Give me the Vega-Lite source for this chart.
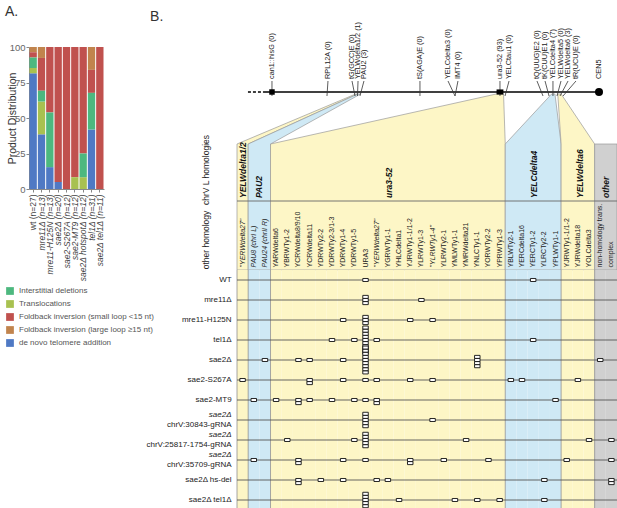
{
"$schema": "https://vega.github.io/schema/vega-lite/v6.json",
"padding": {"left": 5, "top": 5, "right": 0, "bottom": 0},
"autosize": {"type": "pad"},
"config": {"view": {"stroke": null}, "font": "Liberation Sans"},
"datasets": {
"products": [
{"genotype": "wt (n=27)", "category": "de novo telomere addition", "percent": 81.5},
{"genotype": "wt (n=27)", "category": "Foldback inversion (large loop ≥15 nt)", "percent": 3.7},
{"genotype": "wt (n=27)", "category": "Foldback inversion (small loop <15 nt)", "percent": 3.7},
{"genotype": "wt (n=27)", "category": "Translocations", "percent": 3.7},
{"genotype": "wt (n=27)", "category": "Interstitial deletions", "percent": 7.4},
{"genotype": "mre11Δ (n=13)", "category": "de novo telomere addition", "percent": 38.5},
{"genotype": "mre11Δ (n=13)", "category": "Foldback inversion (large loop ≥15 nt)", "percent": 7.7},
{"genotype": "mre11Δ (n=13)", "category": "Foldback inversion (small loop <15 nt)", "percent": 23.1},
{"genotype": "mre11Δ (n=13)", "category": "Translocations", "percent": 23.1},
{"genotype": "mre11Δ (n=13)", "category": "Interstitial deletions", "percent": 7.6},
{"genotype": "mre11-H125N (n=13)", "category": "de novo telomere addition", "percent": 15.4},
{"genotype": "mre11-H125N (n=13)", "category": "Foldback inversion (small loop <15 nt)", "percent": 46.1},
{"genotype": "mre11-H125N (n=13)", "category": "Interstitial deletions", "percent": 38.5},
{"genotype": "sae2Δ (n=20)", "category": "de novo telomere addition", "percent": 5},
{"genotype": "sae2Δ (n=20)", "category": "Foldback inversion (small loop <15 nt)", "percent": 95},
{"genotype": "sae2-S267A (n=12)", "category": "Foldback inversion (small loop <15 nt)", "percent": 100},
{"genotype": "sae2-MT9 (n=12)", "category": "Foldback inversion (small loop <15 nt)", "percent": 91.7},
{"genotype": "sae2-MT9 (n=12)", "category": "Translocations", "percent": 8.3},
{"genotype": "sae2Δ hotspotΔ (n=12)", "category": "Foldback inversion (small loop <15 nt)", "percent": 75},
{"genotype": "sae2Δ hotspotΔ (n=12)", "category": "Translocations", "percent": 8.3},
{"genotype": "sae2Δ hotspotΔ (n=12)", "category": "Interstitial deletions", "percent": 16.7},
{"genotype": "tel1Δ (n=31)", "category": "de novo telomere addition", "percent": 41.9},
{"genotype": "tel1Δ (n=31)", "category": "Foldback inversion (large loop ≥15 nt)", "percent": 16.1},
{"genotype": "tel1Δ (n=31)", "category": "Foldback inversion (small loop <15 nt)", "percent": 16.2},
{"genotype": "tel1Δ (n=31)", "category": "Interstitial deletions", "percent": 25.8},
{"genotype": "sae2Δ tel1Δ (n=11)", "category": "Foldback inversion (small loop <15 nt)", "percent": 100}
],
"chrom": [
{"seg": "dashed", "from": 0.98, "to": 2.33},
{"seg": "solid", "from": 2.33, "to": 32.3}
],
"markers": [
{"name": "can1::hisG", "u": 3.13, "kind": "box"},
{"name": "ura3-52", "u": 23.53, "kind": "wide"},
{"name": "CEN5", "u": 32.39, "kind": "cen"}
],
"loci": [
{"label": "can1::hisG (0)", "n": 0, "lu": 3.13, "fu": 3.13},
{"label": "RPL12A (0)", "n": 0, "lu": 8.14, "fu": 8.05},
{"label": "tG(GCC)E (0)", "n": 0, "lu": 10.29, "fu": 10.56},
{"label": "YELWdelta1/2 (1)", "n": 1, "lu": 10.83, "fu": 10.78},
{"label": "PAU2 (3)", "n": 3, "lu": 11.36, "fu": 11.0},
{"label": "tS(AGA)E (0)", "n": 0, "lu": 16.37, "fu": 16.37},
{"label": "YELCdelta3 (0)", "n": 0, "lu": 18.88, "fu": 19.51},
{"label": "IMT4 (0)", "n": 0, "lu": 19.77, "fu": 19.51},
{"label": "ura3-52 (93)", "n": 93, "lu": 23.53, "fu": 23.53},
{"label": "YELCtau1 (0)", "n": 0, "lu": 24.34, "fu": 23.98},
{"label": "tQ(UUG)E2 (0)", "n": 0, "lu": 26.84, "fu": 27.38},
{"label": "tK(CUU)E1 (0)", "n": 0, "lu": 27.56, "fu": 27.92},
{"label": "YELCdelta4 (7)", "n": 7, "lu": 28.27, "fu": 28.27},
{"label": "YELWdelta5 (0)", "n": 0, "lu": 28.99, "fu": 28.63},
{"label": "YELWdelta6 (3)", "n": 3, "lu": 29.62, "fu": 28.9},
{"label": "tR(UCU)E (0)", "n": 0, "lu": 30.33, "fu": 29.17},
{"label": "CEN5", "lu": 32.39}
],
"groups": [
{"grp": "d12", "label": "YELWdelta1/2", "first": "d12|\"YERWdelta27\"", "from": 0, "to": 1, "cu": 0.5},
{"grp": "pau", "label": "PAU2", "first": "pau|PAU8 (chrI L)", "from": 1, "to": 3, "cu": 2},
{"grp": "ura", "label": "ura3-52", "first": "ura|YARWdelta6", "from": 3, "to": 24, "cu": 13.6},
{"grp": "d4", "label": "YELCdelta4", "first": "d4|YBLWTy2-1", "from": 24, "to": 29, "cu": 26.6},
{"grp": "d6", "label": "YELWdelta6", "first": "d6|YJRWTy1-1/1-2", "from": 29, "to": 32, "cu": 30.7},
{"grp": "oth", "label": "other", "first": "oth|non-homology trans.", "from": 32, "to": 34, "cu": 33}
],
"shapes": [
{"grp": "d12", "v": 0, "x1": 0, "x2": 1}, {"grp": "d12", "v": 126, "x1": 0, "x2": 1}, {"grp": "d12", "v": 176, "x1": 10.62, "x2": 10.8},
{"grp": "pau", "v": 0, "x1": 1, "x2": 3}, {"grp": "pau", "v": 126, "x1": 1, "x2": 3}, {"grp": "pau", "v": 176, "x1": 10.8, "x2": 11.05},
{"grp": "ura", "v": 0, "x1": 3, "x2": 24}, {"grp": "ura", "v": 126, "x1": 3, "x2": 24}, {"grp": "ura", "v": 176, "x1": 23.2, "x2": 23.85},
{"grp": "d4", "v": 0, "x1": 24, "x2": 29}, {"grp": "d4", "v": 126, "x1": 24, "x2": 29}, {"grp": "d4", "v": 176, "x1": 28.15, "x2": 28.45},
{"grp": "d6", "v": 0, "x1": 29, "x2": 32}, {"grp": "d6", "v": 126, "x1": 29, "x2": 32}, {"grp": "d6", "v": 176, "x1": 28.7, "x2": 29.0},
{"grp": "oth", "v": 0, "x1": 32, "x2": 34}, {"grp": "oth", "v": 126, "x1": 32, "x2": 34}
],
"sides": [
{"text": "chrV L homologies", "u": -2.77, "v": 100},
{"text": "other homology", "u": -2.77, "v": 30}
],
"panel": [
{"text": "B.", "u": -7.78, "v": 253}
],
"cols": [
{"col": "d12|\"YERWdelta27\"", "grp": "d12"},
{"col": "pau|PAU8 (chrI L)", "grp": "pau"},
{"col": "pau|PAU24 (chrII R)", "grp": "pau"},
{"col": "ura|YARWdelta6", "grp": "ura"},
{"col": "ura|YBRWTy1-2", "grp": "ura"},
{"col": "ura|YCRWdelta8/9/10", "grp": "ura"},
{"col": "ura|YCRWdelta11", "grp": "ura"},
{"col": "ura|YDRWTy2-2", "grp": "ura"},
{"col": "ura|YDRWTy2-3/1-3", "grp": "ura"},
{"col": "ura|YDRWTy1-4", "grp": "ura"},
{"col": "ura|YDRWTy1-5", "grp": "ura"},
{"col": "ura|URA3", "grp": "ura"},
{"col": "ura|\"YERWdelta27\"", "grp": "ura"},
{"col": "ura|YGRWTy1-1", "grp": "ura"},
{"col": "ura|YHLCdelta1", "grp": "ura"},
{"col": "ura|YJRWTy1-1/1-2", "grp": "ura"},
{"col": "ura|YLRWTy1-3", "grp": "ura"},
{"col": "ura|\"YLRWTy1-4\"", "grp": "ura"},
{"col": "ura|YLRWTy2-1", "grp": "ura"},
{"col": "ura|YMLWTy1-1", "grp": "ura"},
{"col": "ura|YMRWdelta21", "grp": "ura"},
{"col": "ura|YNLCTy1-1", "grp": "ura"},
{"col": "ura|YORWTy2-2", "grp": "ura"},
{"col": "ura|YPRWTy1-3", "grp": "ura"},
{"col": "d4|YBLWTy2-1", "grp": "d4"},
{"col": "d4|YERCdelta16", "grp": "d4"},
{"col": "d4|YERCTy1-2", "grp": "d4"},
{"col": "d4|YLRCTy2-2", "grp": "d4"},
{"col": "d4|YPLWTy1-1", "grp": "d4"},
{"col": "d6|YJRWTy1-1/1-2", "grp": "d6"},
{"col": "d6|YJRWdelta18", "grp": "d6"},
{"col": "d6|YOLCdelta3", "grp": "d6"},
{"col": "oth|non-homology trans.", "grp": "oth"},
{"col": "oth|complex", "grp": "oth"}
],
"strains": [
{"strain": "WT", "l1": "WT"},
{"strain": "mre11Δ", "l1": "mre11Δ"},
{"strain": "mre11-H125N", "l1": "mre11-H125N"},
{"strain": "tel1Δ", "l1": "tel1Δ"},
{"strain": "sae2Δ", "l1": "sae2Δ"},
{"strain": "sae2-S267A", "l1": "sae2-S267A"},
{"strain": "sae2-MT9", "l1": "sae2-MT9"},
{"strain": "sae2Δ chrV:30843-gRNA", "l1": "sae2Δ", "l2": "chrV:30843-gRNA"},
{"strain": "sae2Δ chrV:25817-1754-gRNA", "l1": "sae2Δ", "l2": "chrV:25817-1754-gRNA"},
{"strain": "sae2Δ chrV:35709-gRNA", "l1": "sae2Δ", "l2": "chrV:35709-gRNA"},
{"strain": "sae2Δ hs-del", "l1": "sae2Δ hs-del"},
{"strain": "sae2Δ tel1Δ", "l1": "sae2Δ tel1Δ"}
],
"boxes": [
{"strain": "WT", "col": "ura|URA3", "k": 0},
{"strain": "WT", "col": "d4|YERCTy1-2", "k": 0},
{"strain": "mre11Δ", "col": "ura|URA3", "k": 0},
{"strain": "mre11Δ", "col": "ura|URA3", "k": 1},
{"strain": "mre11Δ", "col": "ura|URA3", "k": 2},
{"strain": "mre11Δ", "col": "ura|YLRWTy1-3", "k": 0},
{"strain": "mre11-H125N", "col": "ura|YDRWTy1-4", "k": 0},
{"strain": "mre11-H125N", "col": "ura|URA3", "k": 0},
{"strain": "mre11-H125N", "col": "ura|URA3", "k": 1},
{"strain": "mre11-H125N", "col": "ura|URA3", "k": 2},
{"strain": "mre11-H125N", "col": "ura|YJRWTy1-1/1-2", "k": 0},
{"strain": "mre11-H125N", "col": "ura|\"YLRWTy1-4\"", "k": 0},
{"strain": "tel1Δ", "col": "ura|YDRWTy2-3/1-3", "k": 0},
{"strain": "tel1Δ", "col": "ura|YDRWTy1-5", "k": 0},
{"strain": "tel1Δ", "col": "ura|URA3", "k": 0},
{"strain": "tel1Δ", "col": "ura|URA3", "k": 1},
{"strain": "tel1Δ", "col": "ura|URA3", "k": 2},
{"strain": "tel1Δ", "col": "ura|URA3", "k": 3},
{"strain": "tel1Δ", "col": "ura|URA3", "k": 4},
{"strain": "tel1Δ", "col": "ura|URA3", "k": 5},
{"strain": "tel1Δ", "col": "ura|URA3", "k": 6},
{"strain": "tel1Δ", "col": "ura|URA3", "k": 7},
{"strain": "tel1Δ", "col": "ura|URA3", "k": 8},
{"strain": "tel1Δ", "col": "ura|\"YERWdelta27\"", "k": 0},
{"strain": "tel1Δ", "col": "d4|YERCTy1-2", "k": 0},
{"strain": "sae2Δ", "col": "pau|PAU24 (chrII R)", "k": 0},
{"strain": "sae2Δ", "col": "ura|YCRWdelta8/9/10", "k": 0},
{"strain": "sae2Δ", "col": "ura|YCRWdelta11", "k": 0},
{"strain": "sae2Δ", "col": "ura|YDRWTy1-4", "k": 0},
{"strain": "sae2Δ", "col": "ura|URA3", "k": 0},
{"strain": "sae2Δ", "col": "ura|URA3", "k": 1},
{"strain": "sae2Δ", "col": "ura|URA3", "k": 2},
{"strain": "sae2Δ", "col": "ura|URA3", "k": 3},
{"strain": "sae2Δ", "col": "ura|URA3", "k": 4},
{"strain": "sae2Δ", "col": "ura|URA3", "k": 5},
{"strain": "sae2Δ", "col": "ura|URA3", "k": 6},
{"strain": "sae2Δ", "col": "ura|URA3", "k": 7},
{"strain": "sae2Δ", "col": "ura|URA3", "k": 8},
{"strain": "sae2Δ", "col": "ura|YNLCTy1-1", "k": 0},
{"strain": "sae2Δ", "col": "ura|YNLCTy1-1", "k": 1},
{"strain": "sae2Δ", "col": "ura|YNLCTy1-1", "k": 2},
{"strain": "sae2Δ", "col": "ura|YNLCTy1-1", "k": 3},
{"strain": "sae2Δ", "col": "oth|non-homology trans.", "k": 0},
{"strain": "sae2-S267A", "col": "d12|\"YERWdelta27\"", "k": 0},
{"strain": "sae2-S267A", "col": "ura|YCRWdelta11", "k": 0},
{"strain": "sae2-S267A", "col": "ura|YCRWdelta11", "k": 1},
{"strain": "sae2-S267A", "col": "ura|YDRWTy1-4", "k": 0},
{"strain": "sae2-S267A", "col": "ura|URA3", "k": 0},
{"strain": "sae2-S267A", "col": "ura|\"YERWdelta27\"", "k": 0},
{"strain": "sae2-S267A", "col": "ura|YJRWTy1-1/1-2", "k": 0},
{"strain": "sae2-S267A", "col": "ura|\"YLRWTy1-4\"", "k": 0},
{"strain": "sae2-S267A", "col": "d4|YBLWTy2-1", "k": 0},
{"strain": "sae2-S267A", "col": "d4|YERCdelta16", "k": 0},
{"strain": "sae2-S267A", "col": "d6|YJRWdelta18", "k": 0},
{"strain": "sae2-MT9", "col": "pau|PAU8 (chrI L)", "k": 0},
{"strain": "sae2-MT9", "col": "ura|YARWdelta6", "k": 0},
{"strain": "sae2-MT9", "col": "ura|YCRWdelta8/9/10", "k": 0},
{"strain": "sae2-MT9", "col": "ura|YCRWdelta8/9/10", "k": 1},
{"strain": "sae2-MT9", "col": "ura|YCRWdelta11", "k": 0},
{"strain": "sae2-MT9", "col": "ura|YDRWTy2-3/1-3", "k": 0},
{"strain": "sae2-MT9", "col": "ura|YDRWTy1-5", "k": 0},
{"strain": "sae2-MT9", "col": "ura|URA3", "k": 0},
{"strain": "sae2-MT9", "col": "ura|\"YERWdelta27\"", "k": 0},
{"strain": "sae2-MT9", "col": "ura|\"YERWdelta27\"", "k": 1},
{"strain": "sae2-MT9", "col": "d4|YPLWTy1-1", "k": 0},
{"strain": "sae2Δ chrV:30843-gRNA", "col": "ura|URA3", "k": 0},
{"strain": "sae2Δ chrV:30843-gRNA", "col": "ura|URA3", "k": 1},
{"strain": "sae2Δ chrV:30843-gRNA", "col": "ura|URA3", "k": 2},
{"strain": "sae2Δ chrV:30843-gRNA", "col": "ura|URA3", "k": 3},
{"strain": "sae2Δ chrV:30843-gRNA", "col": "ura|URA3", "k": 4},
{"strain": "sae2Δ chrV:30843-gRNA", "col": "ura|\"YLRWTy1-4\"", "k": 0},
{"strain": "sae2Δ chrV:25817-1754-gRNA", "col": "ura|YBRWTy1-2", "k": 0},
{"strain": "sae2Δ chrV:25817-1754-gRNA", "col": "ura|YDRWTy1-5", "k": 0},
{"strain": "sae2Δ chrV:25817-1754-gRNA", "col": "ura|URA3", "k": 0},
{"strain": "sae2Δ chrV:25817-1754-gRNA", "col": "ura|URA3", "k": 1},
{"strain": "sae2Δ chrV:25817-1754-gRNA", "col": "ura|URA3", "k": 2},
{"strain": "sae2Δ chrV:25817-1754-gRNA", "col": "ura|URA3", "k": 3},
{"strain": "sae2Δ chrV:25817-1754-gRNA", "col": "ura|URA3", "k": 4},
{"strain": "sae2Δ chrV:25817-1754-gRNA", "col": "ura|YMRWdelta21", "k": 0},
{"strain": "sae2Δ chrV:25817-1754-gRNA", "col": "d6|YOLCdelta3", "k": 0},
{"strain": "sae2Δ chrV:25817-1754-gRNA", "col": "oth|complex", "k": 0},
{"strain": "sae2Δ chrV:35709-gRNA", "col": "pau|PAU8 (chrI L)", "k": 0},
{"strain": "sae2Δ chrV:35709-gRNA", "col": "ura|YCRWdelta8/9/10", "k": 0},
{"strain": "sae2Δ chrV:35709-gRNA", "col": "ura|YCRWdelta8/9/10", "k": 1},
{"strain": "sae2Δ chrV:35709-gRNA", "col": "ura|YDRWTy1-4", "k": 0},
{"strain": "sae2Δ chrV:35709-gRNA", "col": "ura|URA3", "k": 0},
{"strain": "sae2Δ chrV:35709-gRNA", "col": "ura|YJRWTy1-1/1-2", "k": 0},
{"strain": "sae2Δ chrV:35709-gRNA", "col": "ura|YJRWTy1-1/1-2", "k": 1},
{"strain": "sae2Δ chrV:35709-gRNA", "col": "ura|YLRWTy2-1", "k": 0},
{"strain": "sae2Δ chrV:35709-gRNA", "col": "ura|YORWTy2-2", "k": 0},
{"strain": "sae2Δ chrV:35709-gRNA", "col": "d6|YJRWTy1-1/1-2", "k": 0},
{"strain": "sae2Δ chrV:35709-gRNA", "col": "oth|complex", "k": 0},
{"strain": "sae2Δ hs-del", "col": "ura|YCRWdelta8/9/10", "k": 0},
{"strain": "sae2Δ hs-del", "col": "ura|YCRWdelta8/9/10", "k": 1},
{"strain": "sae2Δ hs-del", "col": "ura|YDRWTy2-2", "k": 0},
{"strain": "sae2Δ hs-del", "col": "ura|YDRWTy1-4", "k": 0},
{"strain": "sae2Δ hs-del", "col": "ura|\"YERWdelta27\"", "k": 0},
{"strain": "sae2Δ hs-del", "col": "ura|YGRWTy1-1", "k": 0},
{"strain": "sae2Δ hs-del", "col": "d4|YLRCTy2-2", "k": 0},
{"strain": "sae2Δ hs-del", "col": "oth|complex", "k": 0},
{"strain": "sae2Δ hs-del", "col": "oth|complex", "k": 1},
{"strain": "sae2Δ tel1Δ", "col": "ura|URA3", "k": 0},
{"strain": "sae2Δ tel1Δ", "col": "ura|URA3", "k": 1},
{"strain": "sae2Δ tel1Δ", "col": "ura|URA3", "k": 2},
{"strain": "sae2Δ tel1Δ", "col": "ura|URA3", "k": 3},
{"strain": "sae2Δ tel1Δ", "col": "ura|URA3", "k": 4},
{"strain": "sae2Δ tel1Δ", "col": "ura|YHLCdelta1", "k": 0},
{"strain": "sae2Δ tel1Δ", "col": "ura|YMLWTy1-1", "k": 0},
{"strain": "sae2Δ tel1Δ", "col": "ura|YNLCTy1-1", "k": 0},
{"strain": "sae2Δ tel1Δ", "col": "ura|YPRWTy1-3", "k": 0},
{"strain": "sae2Δ tel1Δ", "col": "d4|YLRCTy2-2", "k": 0}
]
},
"hconcat": [
{
"width": 75, "height": 142,
"title": {"text": "A.", "anchor": "start", "frame": "group", "dx": -24, "offset": 23, "fontSize": 14, "fontWeight": "normal", "color": "#333"},
"data": {"name": "products"},
"mark": {"type": "bar"},
"encoding": {
"x": {"field": "genotype", "type": "nominal", "sort": ["wt (n=27)", "mre11Δ (n=13)", "mre11-H125N (n=13)", "sae2Δ (n=20)", "sae2-S267A (n=12)", "sae2-MT9 (n=12)", "sae2Δ hotspotΔ (n=12)", "tel1Δ (n=31)", "sae2Δ tel1Δ (n=11)"],
"scale": {"paddingInner": 0.12, "paddingOuter": 0.06},
"axis": {"title": null, "labelAngle": -90, "labelAlign": "right", "labelBaseline": "middle", "labelFontSize": 8.5, "labelColor": "#444", "labelPadding": 2, "tickSize": 3, "tickColor": "#888", "domainColor": "#888",
"labelFontStyle": {"condition": {"test": "datum.value == 'wt (n=27)'", "value": "normal"}, "value": "italic"}}},
"y": {"field": "percent", "type": "quantitative", "stack": "zero", "scale": {"domain": [0, 100], "nice": false},
"axis": {"values": [0, 25, 50, 75, 100], "grid": false, "title": "Product Distribution", "titleFontSize": 10.5, "titleFontWeight": "normal", "titleColor": "#333", "titleX": -12, "titleY": 71, "labelFontSize": 9.5, "labelColor": "#666", "tickSize": 3, "tickColor": "#888", "domainColor": "#888", "labelPadding": 1}},
"color": {"field": "category", "type": "nominal",
"scale": {"domain": ["de novo telomere addition", "Foldback inversion (large loop ≥15 nt)", "Foldback inversion (small loop <15 nt)", "Translocations", "Interstitial deletions"],
"range": ["#4f79c4", "#c1844d", "#c0514e", "#a8c150", "#4db87f"]},
"legend": {"values": ["Interstitial deletions", "Translocations", "Foldback inversion (small loop <15 nt)", "Foldback inversion (large loop ≥15 nt)", "de novo telomere addition"],
"orient": "none", "legendX": -23, "legendY": 240, "title": null, "symbolType": "square", "symbolSize": 60, "symbolStrokeWidth": 0, "labelFontSize": 8, "labelColor": "#555", "labelLimit": 260, "rowPadding": 5, "labelOffset": 5}}
}
},
{
"bounds": "flush",
"spacing": 0,
"vconcat": [
{
"width": 380, "height": 223,
"layer": [
{
"data": {"name": "shapes"},
"mark": {"type": "area", "orient": "horizontal", "stroke": "#9a9a9a", "strokeWidth": 0.7, "opacity": 1},
"encoding": {
"y": {"field": "v", "type": "quantitative", "scale": {"domain": [0, 223], "nice": false, "zero": false}, "axis": null},
"x": {"field": "x1", "type": "quantitative", "scale": {"domain": [0, 34], "nice": false, "zero": false}, "axis": null},
"x2": {"field": "x2"},
"detail": {"field": "grp"},
"fill": {"field": "grp", "type": "nominal", "scale": {"domain": ["d12", "pau", "ura", "d4", "d6", "oth"], "range": ["#fdf6c6", "#cfe9f5", "#fdf6c6", "#cfe9f5", "#fdf6c6", "#d0d0d0"]}, "legend": null}
}
},
{
"data": {"name": "groups"},
"mark": {"type": "rule", "color": "#666", "strokeWidth": 0.9},
"encoding": {
"x": {"field": "from", "type": "quantitative"},
"x2": {"field": "to"},
"y": {"datum": 69, "type": "quantitative"}
}
},
{
"data": {"name": "groups"},
"mark": {"type": "text", "angle": 270, "align": "left", "baseline": "middle", "fontSize": 8.5, "fontWeight": "bold", "fontStyle": "italic", "color": "#111"},
"encoding": {
"x": {"field": "cu", "type": "quantitative"},
"y": {"datum": 72, "type": "quantitative"},
"text": {"field": "label"}
}
},
{
"data": {"name": "chrom"},
"mark": {"type": "rule", "color": "#000", "strokeWidth": 1.6},
"encoding": {
"x": {"field": "from", "type": "quantitative"},
"x2": {"field": "to"},
"y": {"datum": 178, "type": "quantitative"},
"strokeDash": {"field": "seg", "type": "nominal", "scale": {"domain": ["dashed", "solid"], "range": [[3, 2], [1, 0]]}, "legend": null}
}
},
{
"data": {"name": "loci"},
"transform": [{"filter": "isValid(datum.fu)"}],
"mark": {"type": "rule", "color": "#333", "strokeWidth": 0.8},
"encoding": {
"x": {"field": "lu", "type": "quantitative"},
"x2": {"field": "fu"},
"y": {"datum": 189, "type": "quantitative"},
"y2": {"datum": 174}
}
},
{
"data": {"name": "markers"},
"mark": {"type": "point", "filled": true, "color": "#000", "opacity": 1},
"encoding": {
"x": {"field": "u", "type": "quantitative"},
"y": {"datum": 178, "type": "quantitative"},
"shape": {"field": "kind", "type": "nominal", "scale": {"domain": ["box", "wide", "cen"], "range": ["square", "M-1,-0.75H1V0.75H-1Z", "circle"]}, "legend": null},
"size": {"field": "kind", "type": "nominal", "scale": {"domain": ["box", "wide", "cen"], "range": [30, 64, 45]}, "legend": null}
}
},
{
"data": {"name": "loci"},
"mark": {"type": "text", "angle": 270, "align": "left", "baseline": "middle", "fontSize": 7.3, "color": "#222"},
"encoding": {
"x": {"field": "lu", "type": "quantitative"},
"y": {"datum": 191, "type": "quantitative"},
"text": {"field": "label"},
"fontWeight": {"condition": {"test": "datum.n > 0", "value": "bold"}, "value": "normal"},
"fontStyle": {"condition": {"test": "isValid(datum.n)", "value": "italic"}, "value": "normal"}
}
},
{
"data": {"name": "sides"},
"mark": {"type": "text", "angle": 270, "align": "center", "baseline": "middle", "fontSize": 8.5, "color": "#222"},
"encoding": {
"x": {"field": "u", "type": "quantitative"},
"y": {"field": "v", "type": "quantitative"},
"text": {"field": "text"},
"fontWeight": {"condition": {"test": "datum.text == 'chrV L homologies'", "value": "bold"}, "value": "normal"}
}
},
{
"data": {"name": "panel"},
"mark": {"type": "text", "align": "left", "baseline": "middle", "fontSize": 14, "color": "#333"},
"encoding": {
"x": {"field": "u", "type": "quantitative"},
"y": {"field": "v", "type": "quantitative"},
"text": {"field": "text"}
}
}
]
},
{
"width": 380, "height": 240,
"layer": [
{
"data": {"name": "cols"},
"mark": {"type": "rect"},
"encoding": {
"x": {"field": "col", "type": "nominal",
"scale": {"domain": ["d12|\"YERWdelta27\"", "pau|PAU8 (chrI L)", "pau|PAU24 (chrII R)", "ura|YARWdelta6", "ura|YBRWTy1-2", "ura|YCRWdelta8/9/10", "ura|YCRWdelta11", "ura|YDRWTy2-2", "ura|YDRWTy2-3/1-3", "ura|YDRWTy1-4", "ura|YDRWTy1-5", "ura|URA3", "ura|\"YERWdelta27\"", "ura|YGRWTy1-1", "ura|YHLCdelta1", "ura|YJRWTy1-1/1-2", "ura|YLRWTy1-3", "ura|\"YLRWTy1-4\"", "ura|YLRWTy2-1", "ura|YMLWTy1-1", "ura|YMRWdelta21", "ura|YNLCTy1-1", "ura|YORWTy2-2", "ura|YPRWTy1-3", "d4|YBLWTy2-1", "d4|YERCdelta16", "d4|YERCTy1-2", "d4|YLRCTy2-2", "d4|YPLWTy1-1", "d6|YJRWTy1-1/1-2", "d6|YJRWdelta18", "d6|YOLCdelta3", "oth|non-homology trans.", "oth|complex"], "paddingInner": 0, "paddingOuter": 0},
"axis": {"orient": "top", "title": null, "labelAngle": -90, "labelAlign": "left", "labelBaseline": "middle", "labelPadding": 3, "ticks": false, "domain": false, "labelFontSize": 7, "labelColor": "#222", "labelOverlap": false, "labelExpr": "split(datum.value, '|')[1]",
"labelFontStyle": {"condition": {"test": "indexof(datum.value, '\"') >= 0 || indexof(datum.value, 'PAU') >= 0", "value": "italic"}, "value": "normal"}}},
"fill": {"field": "grp", "type": "nominal", "scale": {"domain": ["d12", "pau", "ura", "d4", "d6", "oth"], "range": ["#fdf6c6", "#cfe9f5", "#fdf6c6", "#cfe9f5", "#fdf6c6", "#d0d0d0"]}, "legend": null}
}
},
{
"data": {"name": "groups"},
"mark": {"type": "rule", "color": "#8f8f8f", "strokeWidth": 0.8},
"encoding": {"x": {"field": "first", "type": "nominal", "bandPosition": 0}}
},
{
"data": {"name": "strains"},
"mark": {"type": "rule", "color": "#555", "strokeWidth": 0.9},
"encoding": {"y": {"field": "strain", "type": "nominal", "scale": {"domain": ["WT", "mre11Δ", "mre11-H125N", "tel1Δ", "sae2Δ", "sae2-S267A", "sae2-MT9", "sae2Δ chrV:30843-gRNA", "sae2Δ chrV:25817-1754-gRNA", "sae2Δ chrV:35709-gRNA", "sae2Δ hs-del", "sae2Δ tel1Δ"], "paddingInner": 0, "paddingOuter": 0}, "axis": null}}
},
{
"data": {"name": "boxes"},
"mark": {"type": "point", "shape": "M-1,-0.55H1V0.55H-1Z", "size": 30, "filled": true, "fill": "#ffffff", "stroke": "#111", "strokeWidth": 0.9, "opacity": 1},
"encoding": {
"x": {"field": "col", "type": "nominal"},
"y": {"field": "strain", "type": "nominal"},
"yOffset": {"field": "k", "type": "nominal", "scale": {"domain": [8, 6, 4, 2, 0, 1, 3, 5, 7], "range": [-4, 24]}}
}
},
{
"data": {"name": "strains"},
"transform": [{"filter": "!isValid(datum.l2)"}],
"mark": {"type": "text", "align": "right", "baseline": "middle", "dx": -11, "fontSize": 8, "color": "#222"},
"encoding": {
"x": {"datum": "d12|\"YERWdelta27\"", "type": "nominal"},
"y": {"field": "strain", "type": "nominal"},
"text": {"field": "l1"},
"fontStyle": {"condition": {"test": "datum.l1 == 'WT'", "value": "normal"}, "value": "italic"}
}
},
{
"data": {"name": "strains"},
"transform": [{"filter": "isValid(datum.l2)"}],
"mark": {"type": "text", "align": "right", "baseline": "middle", "dx": -11, "dy": -5, "fontSize": 8, "fontStyle": "italic", "color": "#222"},
"encoding": {
"x": {"datum": "d12|\"YERWdelta27\"", "type": "nominal"},
"y": {"field": "strain", "type": "nominal"},
"text": {"field": "l1"}
}
},
{
"data": {"name": "strains"},
"transform": [{"filter": "isValid(datum.l2)"}],
"mark": {"type": "text", "align": "right", "baseline": "middle", "dx": -11, "dy": 5, "fontSize": 8, "color": "#222"},
"encoding": {
"x": {"datum": "d12|\"YERWdelta27\"", "type": "nominal"},
"y": {"field": "strain", "type": "nominal"},
"text": {"field": "l2"}
}
}
]
}
]
}
],
"spacing": 133,
"bounds": "flush"
}
